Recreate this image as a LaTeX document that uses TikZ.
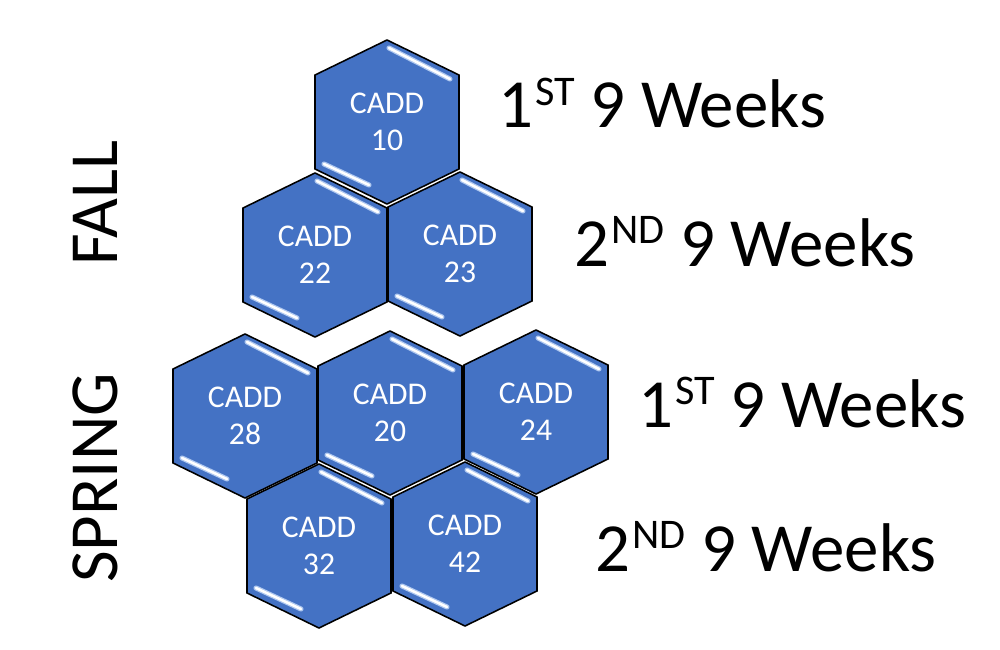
\documentclass[tikz,border=0pt]{standalone}
\usepackage{fontspec}
\setmainfont{Carlito}
\usepackage{xcolor}
\usepackage{tikz}

\definecolor{hexblue}{RGB}{68,114,196}
\definecolor{glintblue}{RGB}{175,200,240}

\tikzset{
  hexcell/.style={fill=hexblue, draw=black, line width=1.1pt, line join=miter},
  glint/.style={line cap=round, line width=3.6pt, draw=glintblue},
  glintcore/.style={line cap=round, line width=1.8pt, draw=white},
  hextext/.style={text=white, align=center, font=\fontsize{22.5}{26.5}\selectfont},
  termlabel/.style={anchor=base west, font=\fontsize{49}{49}\selectfont},
  semlabel/.style={rotate=90, anchor=base, font=\fontsize{49}{49}\selectfont}
}

% ordinal with raised suffix
\newcommand{\wkord}[2]{#1\kern1pt\raisebox{16pt}{\fontsize{30}{30}\selectfont #2}}

% one hexagon: name, centre, course number
\newcommand{\caddhex}[3]{%
  \begin{scope}[shift={(#2)}]
    \draw[hexcell] (0,-82) -- (72,-47) -- (72,47) -- (0,82) -- (-72,47) -- (-72,-47) -- cycle;
    \draw[glint] (2,-74) -- (63,-43);
    \draw[glintcore] (2,-74) -- (63,-43);
    \draw[glint] (-63,42) -- (-18,63);
    \draw[glintcore] (-63,42) -- (-18,63);
    \node[hextext] (#1) at (0,0) {CADD\\#3};
  \end{scope}}

\begin{document}
\begin{tikzpicture}[x=0.025cm, y=-0.025cm]
  \useasboundingbox (0,0) rectangle (1000,650);

  % Fall hexagons
  \caddhex{h10}{387,122}{10}
  \caddhex{h22}{315,255}{22}
  \caddhex{h23}{460,254}{23}

  % Spring hexagons
  \caddhex{h28}{245,416}{28}
  \caddhex{h20}{390,413}{20}
  \caddhex{h24}{536,412}{24}
  \caddhex{h32}{319,546}{32}
  \caddhex{h42}{465,544}{42}

  % Term labels
  \node[termlabel] (fallone) at (494,128) {\wkord{1}{ST} 9 Weeks};
  \node[termlabel] (falltwo) at (570,266) {\wkord{2}{ND} 9 Weeks};
  \node[termlabel] (springone) at (634,427) {\wkord{1}{ST} 9 Weeks};
  \node[termlabel] (springtwo) at (591,571) {\wkord{2}{ND} 9 Weeks};

  % Semesters
  \node[semlabel] (fall) at (117,203) {FALL};
  \node[semlabel] (spring) at (117,478) {SPRING};
\end{tikzpicture}
\end{document}
